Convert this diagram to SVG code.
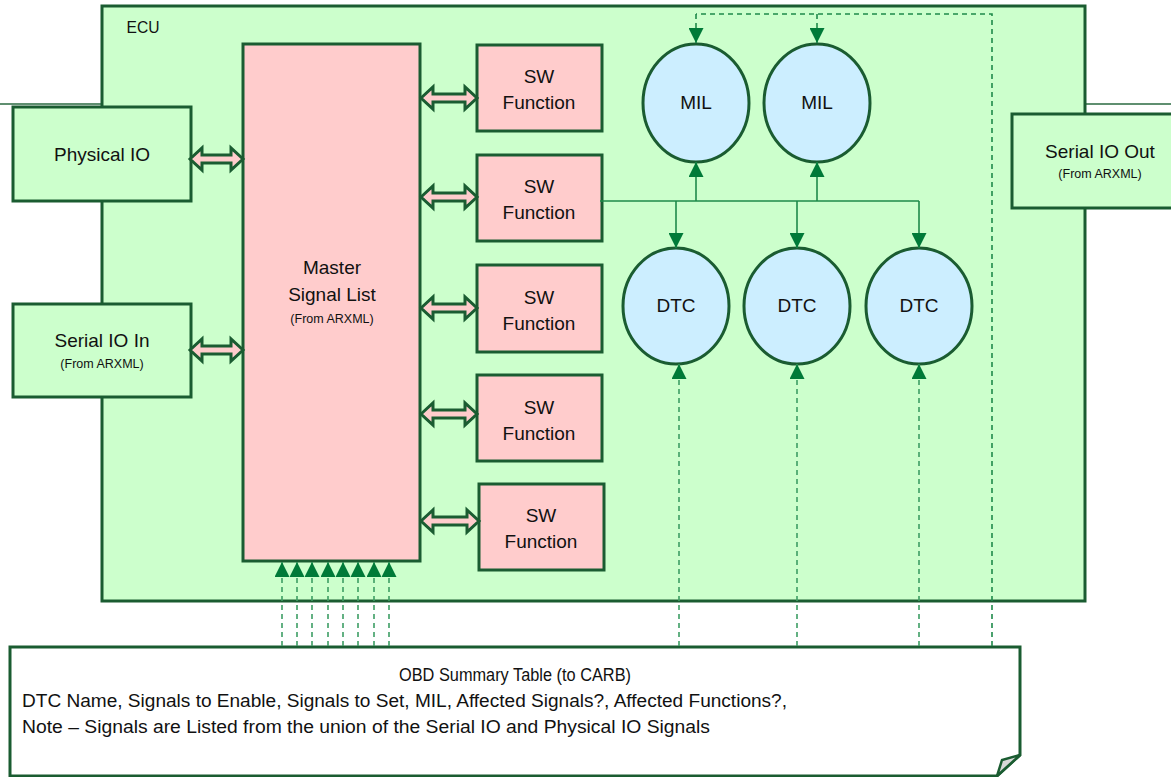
<svg xmlns="http://www.w3.org/2000/svg" width="1171" height="777" viewBox="0 0 1171 777">
<defs>
<style>
.box{stroke:#1a5c31;stroke-width:3}
.g{fill:#ccffcc}
.p{fill:#ffcccc}
.b{fill:#cceeff}
.t{font-family:"Liberation Sans",Arial,sans-serif;fill:#111;text-anchor:middle}
.big{font-size:19px}
.sm{font-size:12.5px}
.conn{stroke:#1e8a4a;stroke-width:1.6;fill:none}
.dash{stroke:#1e8a4a;stroke-width:1.6;fill:none;stroke-dasharray:5 4}
.dashl{stroke:#3d9e64;stroke-width:1.6;fill:none;stroke-dasharray:5 4}
.blk{fill:#ffcccc;stroke:#1a5c31;stroke-width:3;stroke-linejoin:miter}
.thin{stroke:#5f8f70;stroke-width:2}
</style>
<marker id="ah" markerUnits="userSpaceOnUse" markerWidth="15" markerHeight="15" refX="15" refY="7.5" orient="auto" viewBox="0 0 15 15">
<path d="M0,0 L15,7.5 L0,15 Z" fill="#007a38"/>
</marker>
</defs>
<rect width="1171" height="777" fill="#ffffff"/>
<line class="thin" x1="0" y1="104" x2="102" y2="104"/>
<line class="thin" x1="1085" y1="104" x2="1171" y2="104"/>
<g id="ecu">
<rect class="box g" x="102" y="6" width="983" height="595"/>
<text class="t" x="143" y="33" font-size="17" textLength="33" lengthAdjust="spacingAndGlyphs">ECU</text>
</g>
<g id="physical-io">
<rect class="box g" x="13" y="107" width="178" height="94"/>
<text class="t big" x="102" y="161">Physical IO</text>
</g>
<g id="serial-io-in">
<rect class="box g" x="13" y="304" width="178" height="93"/>
<text class="t big" x="102" y="347">Serial IO In</text>
<text class="t sm" x="102" y="368">(From ARXML)</text>
</g>
<g id="serial-io-out">
<rect class="box g" x="1012" y="114" width="162" height="94"/>
<text class="t big" x="1100" y="158">Serial IO Out</text>
<text class="t sm" x="1100" y="178">(From ARXML)</text>
</g>
<g id="master-signal-list">
<rect class="box p" x="243" y="44" width="177" height="517"/>
<text class="t big" x="332" y="274">Master</text>
<text class="t big" x="332" y="301">Signal List</text>
<text class="t sm" x="332" y="323">(From ARXML)</text>
</g>
<g id="sw1">
<rect class="box p" x="477" y="45" width="125" height="86"/>
<text class="t big" x="539" y="83">SW</text>
<text class="t big" x="539" y="109">Function</text>
</g>
<g id="sw2">
<rect class="box p" x="477" y="155" width="125" height="86"/>
<text class="t big" x="539" y="193">SW</text>
<text class="t big" x="539" y="219">Function</text>
</g>
<g id="sw3">
<rect class="box p" x="477" y="265" width="125" height="87"/>
<text class="t big" x="539" y="304">SW</text>
<text class="t big" x="539" y="330">Function</text>
</g>
<g id="sw4">
<rect class="box p" x="477" y="375" width="125" height="86"/>
<text class="t big" x="539" y="414">SW</text>
<text class="t big" x="539" y="440">Function</text>
</g>
<g id="sw5">
<rect class="box p" x="479" y="484" width="125" height="86"/>
<text class="t big" x="541" y="522">SW</text>
<text class="t big" x="541" y="548">Function</text>
</g>
<g id="mil1">
<ellipse class="box b" cx="696" cy="103" rx="53" ry="59"/>
<text class="t big" x="696" y="109">MIL</text>
</g>
<g id="mil2">
<ellipse class="box b" cx="817" cy="103" rx="53" ry="59"/>
<text class="t big" x="817" y="109">MIL</text>
</g>
<g id="dtc1">
<ellipse class="box b" cx="676" cy="306" rx="53" ry="58"/>
<text class="t big" x="676" y="312">DTC</text>
</g>
<g id="dtc2">
<ellipse class="box b" cx="797" cy="306" rx="53" ry="58"/>
<text class="t big" x="797" y="312">DTC</text>
</g>
<g id="dtc3">
<ellipse class="box b" cx="919" cy="306" rx="53" ry="58"/>
<text class="t big" x="919" y="312">DTC</text>
</g>
<g id="obd-summary">
<path d="M10,647 H1020 V755 L997,776 H10 Z" fill="#ffffff" stroke="#1a5c31" stroke-width="3"/>
<path d="M1020,755 L1002,760 L997,776 Z" fill="#d9d9d9" stroke="#1a5c31" stroke-width="2.5" stroke-linejoin="miter"/>
<text class="t" x="515" y="681" font-size="17.5" textLength="232" lengthAdjust="spacingAndGlyphs">OBD Summary Table (to CARB)</text>
<text x="22" y="707" font-size="17.5" font-family="Liberation Sans, Arial, sans-serif" fill="#111" textLength="765" lengthAdjust="spacingAndGlyphs">DTC Name, Signals to Enable, Signals to Set, MIL, Affected Signals?, Affected Functions?,</text>
<text x="22" y="733" font-size="17.5" font-family="Liberation Sans, Arial, sans-serif" fill="#111" textLength="688" lengthAdjust="spacingAndGlyphs">Note – Signals are Listed from the union of the Serial IO and Physical IO Signals</text>
</g>
<g id="connectors">
<path class="blk" d="M190,159 L202,148 L202,155 L231,155 L231,148 L243,159 L231,170 L231,163 L202,163 L202,170 Z"/>
<path class="blk" d="M190,350 L202,339 L202,346 L231,346 L231,339 L243,350 L231,361 L231,354 L202,354 L202,361 Z"/>
<path class="blk" d="M421,98 L433,87 L433,94 L465,94 L465,87 L477,98 L465,109 L465,102 L433,102 L433,109 Z"/>
<path class="blk" d="M421,197 L433,186 L433,193 L465,193 L465,186 L477,197 L465,208 L465,201 L433,201 L433,208 Z"/>
<path class="blk" d="M421,308 L433,297 L433,304 L465,304 L465,297 L477,308 L465,319 L465,312 L433,312 L433,319 Z"/>
<path class="blk" d="M421,414 L433,403 L433,410 L465,410 L465,403 L477,414 L465,425 L465,418 L433,418 L433,425 Z"/>
<path class="blk" d="M421,521 L433,510 L433,517 L467,517 L467,510 L479,521 L467,532 L467,525 L433,525 L433,532 Z"/>
<line class="conn" x1="600" y1="201" x2="919" y2="201"/>
<line class="conn" x1="696" y1="201" x2="696" y2="162" marker-end="url(#ah)"/>
<line class="conn" x1="817" y1="201" x2="817" y2="162" marker-end="url(#ah)"/>
<line class="conn" x1="676" y1="201" x2="676" y2="248" marker-end="url(#ah)"/>
<line class="conn" x1="797" y1="201" x2="797" y2="248" marker-end="url(#ah)"/>
<line class="conn" x1="919" y1="201" x2="919" y2="248" marker-end="url(#ah)"/>
<path class="dash" d="M992,646 V14 H696"/>
<line class="dash" x1="696" y1="14" x2="696" y2="43" marker-end="url(#ah)"/>
<line class="dash" x1="817" y1="14" x2="817" y2="43" marker-end="url(#ah)"/>
<line class="dashl" x1="679" y1="646" x2="679" y2="364" marker-end="url(#ah)"/>
<line class="dashl" x1="797" y1="646" x2="797" y2="364" marker-end="url(#ah)"/>
<line class="dashl" x1="919" y1="646" x2="919" y2="364" marker-end="url(#ah)"/>
<line class="dashl" x1="282" y1="646" x2="282" y2="562" marker-end="url(#ah)"/>
<line class="dashl" x1="297" y1="646" x2="297" y2="562" marker-end="url(#ah)"/>
<line class="dashl" x1="312" y1="646" x2="312" y2="562" marker-end="url(#ah)"/>
<line class="dashl" x1="328" y1="646" x2="328" y2="562" marker-end="url(#ah)"/>
<line class="dashl" x1="343" y1="646" x2="343" y2="562" marker-end="url(#ah)"/>
<line class="dashl" x1="358" y1="646" x2="358" y2="562" marker-end="url(#ah)"/>
<line class="dashl" x1="374" y1="646" x2="374" y2="562" marker-end="url(#ah)"/>
<line class="dashl" x1="389" y1="646" x2="389" y2="562" marker-end="url(#ah)"/>
</g>
</svg>
